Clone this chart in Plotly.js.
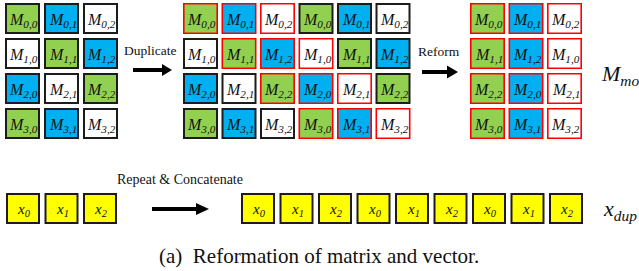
<!DOCTYPE html>
<html>
<head>
<meta charset="utf-8">
<script src="https://cdn.plot.ly/plotly-3.0.1.min.js"></script>
</head>
<body style="margin:0">
<div id="chart"></div>
<script>
// ---- data ----
const matrixLabels = [["0,0","0,1","0,2"],["1,0","1,1","1,2"],["2,0","2,1","2,2"],["3,0","3,1","3,2"]];
const matrixColors = [["G","B","W"],["W","G","B"],["B","W","G"],["G","B","W"]];
const dupBorders = [["R","R","R","K","K","K"],["K","R","R","R","K","K"],["K","K","R","R","R","K"],["K","K","K","R","R","R"]];
const reformLabels = [["0,0","0,1","0,2"],["1,1","1,2","1,0"],["2,2","2,0","2,1"],["3,0","3,1","3,2"]];
const reformColors = [["G","B","W"],["G","B","W"],["G","B","W"],["G","B","W"]];
const vectorLabels = ["0","1","2"];
const vectorRepeat = 3;
const stepLabels = ["Duplicate","Reform","Repeat &amp; Concatenate"];
const sideLabels = ["<i>M</i><sub><i>mod</i></sub>","<i>x</i><sub><i>dup</i></sub>"];
const caption = "(a)  Reformation of matrix and vector.";

// ---- style ----
const FILL = {G:"#92d050", B:"#00b0f0", W:"#ffffff", Y:"#ffff00"};
const LINE = {K:{color:"#1c1c1c", width:2}, R:{color:"#ff0000", width:1.6}};
const SERIF = "Liberation Serif";

const shapes = [];
const annotations = [];

function cell(xo, yo, w, h, fill, border, html, fs) {
  const lw = LINE[border].width;
  shapes.push({type:"rect", xref:"x", yref:"y", x0:xo+lw/2, x1:xo+w-lw/2, y0:yo+lw/2, y1:yo+h-lw/2,
    fillcolor:FILL[fill], line:{color:LINE[border].color, width:lw}, layer:"below"});
  annotations.push({x:xo+w/2+1, y:yo+h/2+1.5, xref:"x", yref:"y", text:html, showarrow:false,
    xanchor:"center", yanchor:"middle", font:{family:SERIF, size:fs}});
}
function mLabel(s){ return "<i>M</i><sub><i>"+s+"</i></sub>"; }
function xLabel(s){ return "<i>x</i><sub><i>"+s+"</i></sub>"; }

function matrix(labels, colors, borders, x0, px, y0, py) {
  labels.forEach((row, r) => row.forEach((lab, c) => {
    cell(x0 + c*px, y0 + r*py, 35, 31, colors[r][c], borders(r,c), mLabel(lab), 16);
  }));
}
matrix(matrixLabels, matrixColors, () => "K", 5, 39, 3, 35);
const dupLabels = matrixLabels.map(r => r.concat(r));
const dupColors = matrixColors.map(r => r.concat(r));
matrix(dupLabels, dupColors, (r,c) => dupBorders[r][c], 183, 38.5, 3, 35);
matrix(reformLabels, reformColors, () => "R", 470, 38.5, 3, 35);

vectorLabels.forEach((lab, i) => cell(6 + i*38.5, 193, 34, 31, "Y", "K", xLabel(lab), 15));
const dupVec = [];
for (let k = 0; k < vectorRepeat; k++) dupVec.push(...vectorLabels);
dupVec.forEach((lab, i) => cell(241 + i*38.5, 193, 34, 31, "Y", "K", xLabel(lab), 15));

function arrow(xa, xb, y, headLen, headHalf) {
  shapes.push({type:"line", xref:"x", yref:"y", x0:xa, x1:xb-headLen+1, y0:y, y1:y, line:{color:"#000", width:4}});
  shapes.push({type:"path", xref:"x", yref:"y",
    path:`M ${xb-headLen} ${y-headHalf} L ${xb} ${y} L ${xb-headLen} ${y+headHalf} Z`,
    fillcolor:"#000", line:{color:"#000", width:0}});
}
arrow(133, 172, 70, 10, 6);
arrow(422, 458, 72, 11, 6.5);
arrow(152, 209, 209, 13, 6);

const stepPos = [[150, 50],[439, 51],[180, 179]];
const stepSize = [13.5, 13.5, 14];
stepLabels.forEach((t, i) => annotations.push({x:stepPos[i][0], y:stepPos[i][1], xref:"x", yref:"y", text:t,
  showarrow:false, xanchor:"center", yanchor:"middle", font:{family:SERIF, size:stepSize[i]}}));

const sidePos = [[599, 75],[601, 210]];
sideLabels.forEach((t, i) => annotations.push({x:sidePos[i][0], y:sidePos[i][1], xref:"x", yref:"y", text:t,
  showarrow:false, xanchor:"left", yanchor:"middle", font:{family:SERIF, size:22}}));

annotations.push({x:319, y:256, xref:"x", yref:"y", text:caption, showarrow:false,
  xanchor:"center", yanchor:"middle", font:{family:SERIF, size:21}});

const layout = {
  width:639, height:271, margin:{l:0, r:0, t:0, b:0, pad:0},
  font:{family:SERIF, color:"#111111"},
  paper_bgcolor:"#fff", plot_bgcolor:"#fff", showlegend:false,
  xaxis:{range:[0,639], visible:false, fixedrange:true},
  yaxis:{range:[271,0], visible:false, fixedrange:true},
  shapes, annotations
};
Plotly.newPlot("chart", [], layout, {staticPlot:true, displayModeBar:false});
</script>
</body>
</html>
